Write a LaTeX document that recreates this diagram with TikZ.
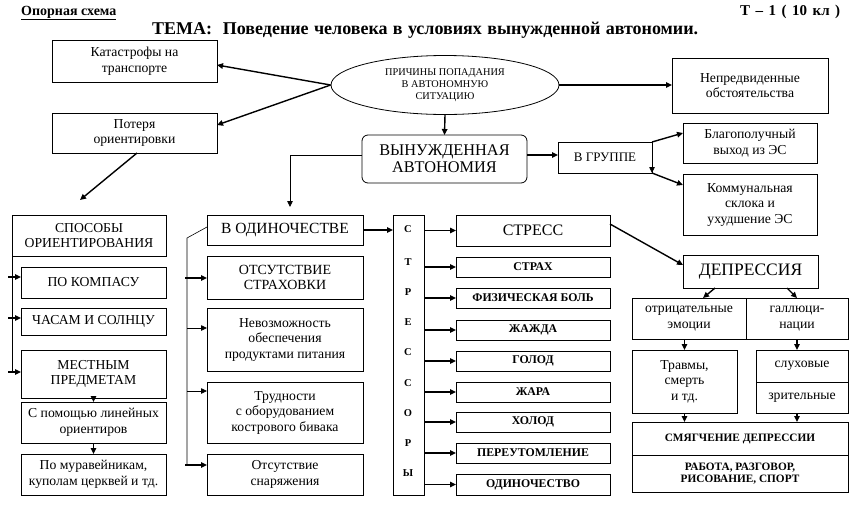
\documentclass[tikz,border=0pt]{standalone}
\usepackage{fontspec}
\setmainfont{Liberation Serif}
\usetikzlibrary{arrows.meta,shapes.geometric,calc}
\newcommand\fsz[2]{\fontsize{#1}{#2}\selectfont}
\newcommand\bx[7][]{\node[box,#1,anchor=north west,minimum width={(#4-#2)*1pt},minimum height={(#5-#3)*1pt}] (#6) at (#2,#3) {#7};}
\begin{document}
\begin{tikzpicture}[x=1pt,y=-1pt,
  box/.style={draw,line width=0.8pt,inner sep=1pt,outer sep=0pt,align=center,font=\fsz{13.7}{15.5}},
  capsbox/.style={font=\fsz{13.7}{15.5}},
  bigbox/.style={font=\fsz{16.3}{17}},
  smallbold/.style={font=\bfseries\fsz{11.8}{12.5}},
  arr/.style={-{Triangle[length=6pt,width=5.5pt]},line width=1.4pt},
  thinarr/.style={-{Triangle[length=6pt,width=5.5pt]},line width=0.8pt},
  letter/.style={font=\bfseries\fsz{10.5}{12},inner sep=0pt}]
\useasboundingbox (0,0) rectangle (868,515);

% titles
\node[anchor=base west,inner sep=0pt,font=\bfseries\fsz{14}{16}] (op) at (21,15) {\underline{Опорная схема}};
\node[anchor=base west,inner sep=0pt,font=\bfseries\fsz{18}{20}] (tema) at (152,34) {\makebox[546pt][s]{ТЕМА:\ \ Поведение человека в условиях вынужденной автономии.}};
\node[anchor=base west,inner sep=0pt,font=\bfseries\fsz{15}{16}] (tnum) at (740,15) {\makebox[100pt][s]{Т – 1 ( 10 кл )}};

% top part
\bx{52}{40}{217}{82}{kat}{Катастрофы на\\транспорте}
\bx{52}{113}{217}{153}{pot}{Потеря\\ориентировки}
\node[draw,ellipse,line width=0.8pt,minimum width=228pt,minimum height=59pt,inner sep=0pt,align=center,font=\fsz{10.3}{12}] (ell) at (445,85) {ПРИЧИНЫ ПОПАДАНИЯ\\В АВТОНОМНУЮ\\СИТУАЦИЮ};
\bx{672}{58}{828}{113}{nep}{Непредвиденные\\обстоятельства}
\bx[bigbox,rounded corners=6pt]{362}{135}{527}{183}{vyn}{ВЫНУЖДЕННАЯ\\АВТОНОМИЯ}
\bx[font=\fsz{13}{15}]{558}{142}{652}{173}{grp}{В ГРУППЕ}
\bx{683}{123}{817}{163}{blg}{Благополучный\\выход из ЭС}
\bx{683}{174}{817}{235}{kom}{Коммунальная\\склока и\\ухудшение ЭС}

% left column
\bx[capsbox]{12}{215}{166}{256}{spo}{СПОСОБЫ\\ОРИЕНТИРОВАНИЯ}
\bx[capsbox]{21}{267}{166}{298}{kmp}{ПО КОМПАСУ}
\bx[capsbox]{21}{308}{166}{335}{chs}{ЧАСАМ И СОЛНЦУ}
\bx[capsbox]{21}{350}{166}{398}{mes}{МЕСТНЫМ\\ПРЕДМЕТАМ}
\bx{21}{402}{166}{443}{lin}{С помощью линейных\\ориентиров}
\bx{21}{454}{166}{495}{mur}{По муравейникам,\\куполам церквей и тд.}

% middle column
\bx[font=\fsz{15.5}{17}]{207}{215}{363}{245}{odn}{В ОДИНОЧЕСТВЕ}
\bx[font=\fsz{14}{15.5}]{207}{256}{363}{299}{ots}{ОТСУТСТВИЕ\\СТРАХОВКИ}
\bx{207}{308}{363}{371}{nev}{Невозможность\\обеспечения\\продуктами питания}
\bx{207}{382}{363}{443}{trd}{Трудности\\с оборудованием\\кострового бивака}
\bx{207}{454}{363}{495}{sna}{Отсутствие\\снаряжения}

% stressors column
\bx{393}{215}{424}{495}{col}{}
\node[letter] (l1) at (408,229) {С};
\node[letter] (l2) at (408,262) {Т};
\node[letter] (l3) at (408,292) {Р};
\node[letter] (l4) at (408,322) {Е};
\node[letter] (l5) at (408,352) {С};
\node[letter] (l6) at (408,383) {С};
\node[letter] (l7) at (408,413) {О};
\node[letter] (l8) at (408,443) {Р};
\node[letter] (l9) at (408,473) {Ы};

\bx[font=\fsz{16}{17}]{456}{215}{610}{246}{s0}{СТРЕСС}
\bx[smallbold]{456}{257}{610}{277}{s1}{СТРАХ}
\bx[smallbold]{456}{288}{610}{308}{s2}{ФИЗИЧЕСКАЯ БОЛЬ}
\bx[smallbold]{456}{320}{610}{340}{s3}{ЖАЖДА}
\bx[smallbold]{456}{351}{610}{371}{s4}{ГОЛОД}
\bx[smallbold]{456}{382}{610}{402}{s5}{ЖАРА}
\bx[smallbold]{456}{412}{610}{432}{s6}{ХОЛОД}
\bx[smallbold]{456}{443}{610}{463}{s7}{ПЕРЕУТОМЛЕНИЕ}
\bx[smallbold]{456}{474}{610}{495}{s8}{ОДИНОЧЕСТВО}

% right column
\bx[font=\fsz{17.5}{18}]{683}{255}{818}{288}{dep}{ДЕПРЕССИЯ}
\bx{632}{298}{746}{339}{emo}{отрицательные\\эмоции}
\bx{746}{298}{848}{339}{gal}{галлюци-\\нации}
\bx{632}{350}{737}{413}{trv}{Травмы,\\смерть\\и тд.}
\bx{756}{350}{848}{382}{slu}{слуховые}
\bx{756}{382}{848}{413}{zri}{зрительные}
\bx[font=\bfseries\fsz{11.3}{12}]{632}{422}{848}{455}{smg}{СМЯГЧЕНИЕ ДЕПРЕССИИ}
\bx[font=\bfseries\fsz{11.3}{12.5}]{632}{455}{848}{492}{rab}{РАБОТА, РАЗГОВОР,\\РИСОВАНИЕ, СПОРТ}

% connectors: top
\draw[arr] (ell.west) -- ($(kat.north east)+(0,25)$);
\draw[arr] (ell.west) -- ($(pot.north east)+(0,12)$);
\coordinate (potend) at (80,200);
\draw[arr] ($(pot.south west)+(85,0)$) -- (potend);
\draw[arr] (ell.east) -- (ell.east -| nep.west);
\draw[arr] (ell.south) -- (vyn.north);
\draw[thinarr] ($(vyn.north west)+(0,20)$) -| ($(odn.north west)+(83,-8)$);
\draw[arr] ($(vyn.north east)+(0,20)$) -- ($(grp.north west)+(0,13)$);
\draw[thinarr] (grp.north east) -- (grp.south east);
\draw[arr] (grp.north east) -- ($(blg.north west)+(0,10)$);
\draw[arr] (grp.south east) -- ($(kom.north west)+(0,11)$);

% left column connectors
\draw[line width=0.8pt] (spo.south west) -- ($(mes.north west)+(-9,22)$);
\draw[arr] ($(kmp.north west)+(-13,10)$) -- ($(kmp.north west)+(0,10)$);
\draw[arr] ($(chs.north west)+(-13,10)$) -- ($(chs.north west)+(0,10)$);
\draw[arr] ($(mes.north west)+(-13,22)$) -- ($(mes.north west)+(0,22)$);
\draw[arr] (mes.south) -- (lin.north);
\draw[arr] (lin.south) -- (mur.north);

% middle bracket
\coordinate (br1) at (187,238);
\coordinate (br2) at (187,465);
\draw[line width=0.6pt] ($(odn.north west)+(0,12)$) -- (br1) -- (br2);
\draw[arr] ($(ots.north west)+(-22,22)$) -- ($(ots.north west)+(0,22)$);
\draw[thinarr] ($(nev.north west)+(-20,20)$) -- ($(nev.north west)+(0,20)$);
\draw[thinarr] ($(trd.north west)+(-20,9)$) -- ($(trd.north west)+(0,9)$);
\draw[arr] ($(sna.north west)+(-22,11)$) -- ($(sna.north west)+(0,11)$);

% stressors
\draw[arr] (odn.east) -- (odn.east -| col.west);
\foreach \i in {0,...,8}{
  \draw[arr] (col.east |- s\i.west) -- (s\i.west);
}
\draw[arr] ($(s0.north east)+(0,9)$) -- ($(dep.north west)+(0,10)$);

% depression
\draw[arr] ($(dep.south west)+(32,0)$) -- ($(emo.north west)+(71,0)$);
\draw[arr] ($(dep.south west)+(104,0)$) -- ($(gal.north west)+(51,0)$);
\draw[arr] (emo.south -| trv.north) -- (trv.north);
\draw[arr] (gal.south) -- (gal.south |- slu.north);
\draw[arr] (trv.south) -- (trv.south |- smg.north);
\draw[arr] (zri.south -| gal.south) -- (gal.south |- smg.north);
\end{tikzpicture}
\end{document}
